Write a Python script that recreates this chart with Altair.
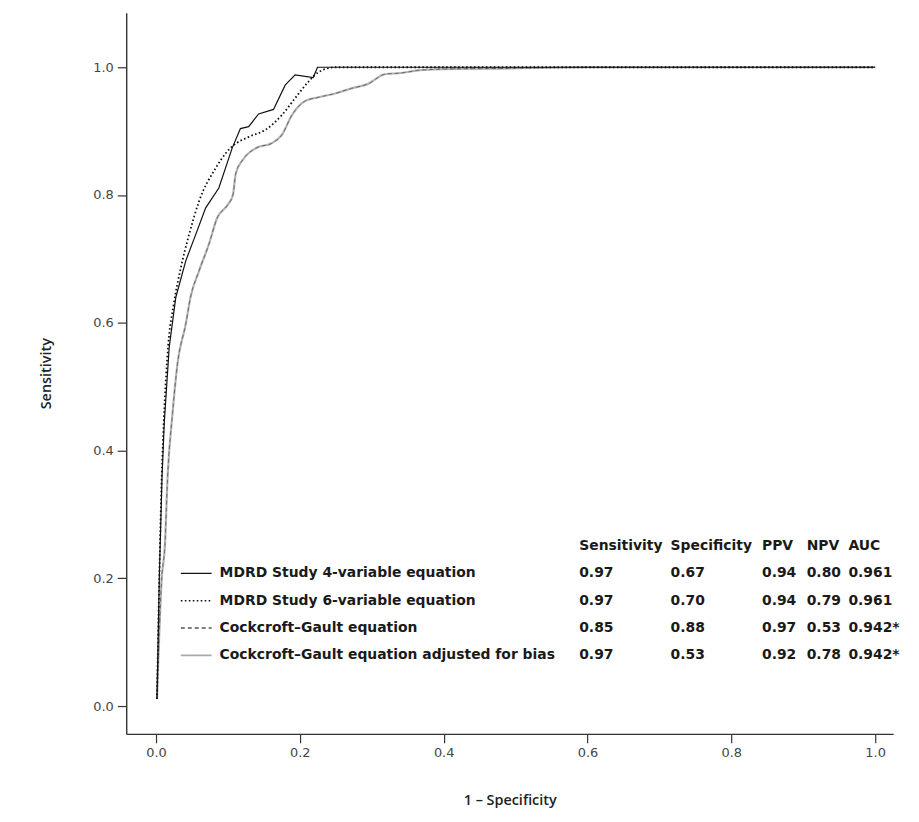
import altair as alt
import pandas as pd

# ---------------- data ----------------
mdrd4_x = [0.0014, 0.0046, 0.0083, 0.0115, 0.0184, 0.0276, 0.0414, 0.0552, 0.0691, 0.0874,
           0.1058, 0.1174, 0.1289, 0.1427, 0.1634, 0.1796, 0.1934, 0.2186, 0.2246, 1.0]
mdrd4_y = [0.011, 0.200, 0.355, 0.443, 0.562, 0.640, 0.697, 0.738, 0.780, 0.811,
           0.873, 0.904, 0.907, 0.927, 0.934, 0.972, 0.988, 0.984, 1.000, 1.000]

mdrd6_x = [0.0014, 0.0046, 0.0080, 0.0110, 0.0170, 0.0245, 0.0345, 0.0460, 0.0598, 0.0829,
           0.0989, 0.1058, 0.1290, 0.1520, 0.1750, 0.1930, 0.2117, 0.2255, 0.2490, 1.0]
mdrd6_y = [0.011, 0.200, 0.360, 0.450, 0.565, 0.628, 0.686, 0.738, 0.790, 0.842,
           0.868, 0.876, 0.891, 0.902, 0.925, 0.951, 0.977, 0.992, 1.000, 1.000]

cg_x = [0.0014, 0.0080, 0.0124, 0.0160, 0.0230, 0.0299, 0.0414, 0.0480, 0.0598, 0.0736,
        0.0850, 0.1000, 0.1070, 0.1110, 0.1220, 0.1400, 0.1610, 0.1750, 0.1890, 0.2070,
        0.2260, 0.2490, 0.2720, 0.2950, 0.3180, 0.3410, 0.3640, 0.4000, 0.4700, 0.6000, 1.0]
cg_y = [0.011, 0.200, 0.251, 0.355, 0.458, 0.536, 0.598, 0.640, 0.681, 0.723,
        0.764, 0.785, 0.800, 0.834, 0.857, 0.874, 0.881, 0.894, 0.925, 0.947,
        0.953, 0.959, 0.967, 0.974, 0.989, 0.991, 0.995, 0.997, 0.998, 1.000, 1.000]

series_names = ["MDRD Study 4-variable equation",
                "MDRD Study 6-variable equation",
                "Cockcroft–Gault equation",
                "Cockcroft–Gault equation adjusted for bias"]
headers = ["Sensitivity", "Specificity", "PPV", "NPV", "AUC"]
sens = ["0.97", "0.97", "0.85", "0.97"]
spec = ["0.67", "0.70", "0.88", "0.53"]
ppv = ["0.94", "0.94", "0.97", "0.92"]
npv = ["0.80", "0.79", "0.53", "0.78"]
auc = ["0.961", "0.961", "0.942*", "0.942*"]
tick_vals = [0.0, 0.2, 0.4, 0.6, 0.8, 1.0]

# ---------------- styling ----------------
W, H = 772, 726
XDOM = [-0.0414, 1.025]
YDOM = [-0.0435, 1.0855]
FONT_T = "DejaVu Sans"
FONT_AX = "DejaVu Sans"


def curve(xs, ys, name):
    return pd.DataFrame({"x": xs, "y": ys, "i": list(range(len(xs))), "s": name})


xs = alt.Scale(domain=XDOM, nice=False, zero=False)
ys = alt.Scale(domain=YDOM, nice=False, zero=False)

xax = alt.Axis(values=tick_vals, format=".1f", grid=False, title="1 – Specificity",
               titleY=67, titleBaseline="middle")
yax = alt.Axis(values=tick_vals, format=".1f", grid=False, title="Sensitivity",
               titleX=-80, titleBaseline="middle", titleAngle=-90)


def line_layer(df, color, width, dash=None, interp="linear"):
    kw = dict(color=color, strokeWidth=width, interpolate=interp)
    if dash is not None:
        kw["strokeDash"] = dash
    return alt.Chart(df).mark_line(**kw).encode(
        x=alt.X("x:Q", scale=xs, axis=xax),
        y=alt.Y("y:Q", scale=ys, axis=yax),
        order="i:Q",
    )


lines = alt.layer(
    line_layer(curve(cg_x, cg_y, series_names[3]), "#b4b4b4", 2.2, interp="monotone"),
    line_layer(curve(cg_x, cg_y, series_names[2]), "#6a6a6a", 1.0, dash=[4, 3], interp="monotone"),
    line_layer(curve(mdrd6_x, mdrd6_y, series_names[1]), "#111111", 1.8, dash=[1.6, 2.4], interp="monotone"),
    line_layer(curve(mdrd4_x, mdrd4_y, series_names[0]), "#111111", 1.2),
)

# ---------------- table / legend ----------------
cells = []
for c, h in enumerate(headers):
    cells.append({"row": 0, "col": c + 1, "t": h})
for r in range(4):
    cells.append({"row": r + 1, "col": 0, "t": series_names[r]})
    for c, arr in enumerate([sens, spec, ppv, npv, auc]):
        cells.append({"row": r + 1, "col": c + 1, "t": arr[r]})
cells_df = pd.DataFrame(cells)

row_scale = alt.Scale(domain=[0, 4], range=[537, 647])
col_scale = alt.Scale(domain=[0, 1, 2, 3, 4, 5], range=[94, 456, 548, 640, 685, 727])

table_text = alt.Chart(cells_df).mark_text(
    align="left", baseline="middle", font=FONT_T, fontSize=14, fontWeight="bold", color="#1a1a1a"
).encode(
    x=alt.X("col:Q", scale=col_scale, axis=None),
    y=alt.Y("row:Q", scale=row_scale, axis=None),
    text="t:N",
)

leg_df = pd.DataFrame({"row": [1, 2, 3, 4], "s": series_names})
legend_rules = alt.Chart(leg_df).mark_rule().encode(
    x=alt.value(55), x2=alt.value(86),
    y=alt.Y("row:Q", scale=row_scale, axis=None),
    color=alt.Color("s:N", scale=alt.Scale(domain=series_names,
                    range=["#111111", "#111111", "#555555", "#aaaaaa"]), legend=None),
    strokeDash=alt.StrokeDash("s:N", scale=alt.Scale(domain=series_names,
                              range=[[1, 0], [1.6, 2.4], [4, 3], [1, 0]]), legend=None),
    strokeWidth=alt.StrokeWidth("s:N", scale=alt.Scale(domain=series_names,
                                range=[1.2, 1.8, 1.0, 2.0]), legend=None),
)

table = alt.layer(legend_rules, table_text)

chart = alt.layer(lines, table).resolve_scale(
    x="independent", y="independent", color="independent",
    strokeDash="independent", strokeWidth="independent"
).properties(
    width=W, height=H,
    background="white",
    autosize=alt.AutoSizeParams(type="none"),
    padding={"left": 119, "top": 2, "right": 18, "bottom": 78},
).configure_view(stroke=None).configure_axis(
    domainColor="#333333", domainWidth=1.4, tickColor="#333333", tickWidth=1.2, tickSize=9,
    labelFont=FONT_AX, labelFontSize=13, labelColor="#444444", labelPadding=4,
    titleFont="Open Sans", titleFontSize=14.5, titleFontWeight=600, titleColor="#222222",
)

chart.save("out.html", embed_options={"renderer": "svg", "actions": False})
